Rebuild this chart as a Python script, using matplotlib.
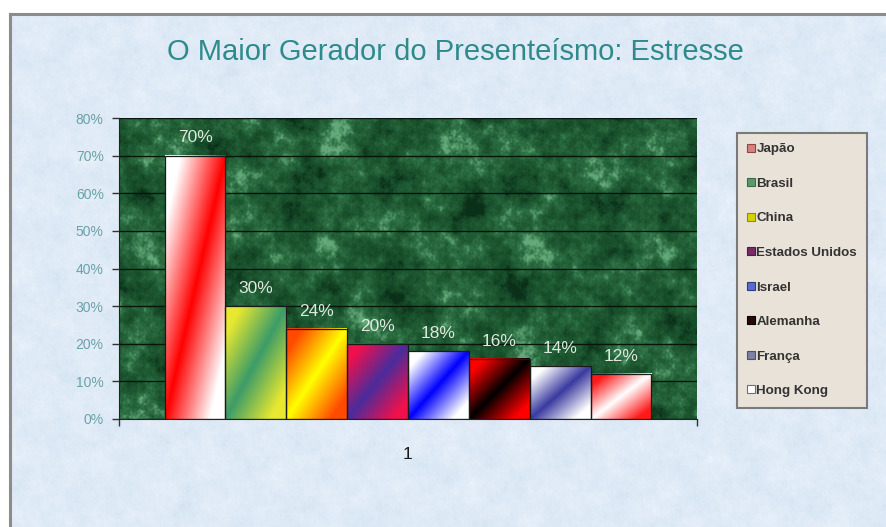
import numpy as np
import matplotlib
matplotlib.use("Agg")
import matplotlib.pyplot as plt
from matplotlib.patches import Patch
from matplotlib.colors import to_rgb, LinearSegmentedColormap
from matplotlib.lines import Line2D

# ---- data ----
countries = ["Japão", "Brasil", "China", "Estados Unidos", "Israel", "Alemanha", "França", "Hong Kong"]
values = [0.70, 0.30, 0.24, 0.20, 0.18, 0.16, 0.14, 0.12]
category_labels = ["1"]
yticks = [0.0, 0.1, 0.2, 0.3, 0.4, 0.5, 0.6, 0.7, 0.8]
title = "O Maior Gerador do Presenteísmo: Estresse"

# gradient (center, edge) colours per bar and legend swatch colours
grad_center = ["#ff0000", "#3c9c68", "#ffff00", "#4a2c9c", "#0000ff", "#000000", "#3a3aa0", "#ffffff"]
grad_edge = ["#ffffff", "#e8e830", "#ff4a00", "#f0104c", "#ffffff", "#ff0000", "#ffffff", "#ff1a1a"]
swatch_face = ["#d88080", "#5a9a6a", "#d8d000", "#7a2a6a", "#5a6ad0", "#2a0808", "#8080a8", "#ffffff"]
swatch_edge = ["#8a4a3a", "#3a6a4a", "#8a8a20", "#4a2040", "#303a80", "#000000", "#505070", "#707070"]


def mottle(h, w, scale, octaves, decay):
    """Deterministic multi-octave sine texture in [0, 1]."""
    y, x = np.mgrid[0:h, 0:w] / scale
    f = np.zeros((h, w))
    for k in range(octaves):
        freq = 1.9 ** k
        for j in range(4):
            ang = (k * 4 + j) * 2.39996
            ph = (k * 7 + j * 3) * 1.3
            cx, sy = np.cos(ang), np.sin(ang)
            warp = 0.9 * np.sin(freq * 0.7 * (sy * x - cx * y) + 2 * ph)
            f += np.sin(freq * (cx * x + sy * y) + ph + warp) / (decay ** k)
    return (f - f.min()) / (f.max() - f.min())


W_PX, H_PX = 886, 527
fig = plt.figure(figsize=(W_PX / 100, H_PX / 100), dpi=100)
fig.patch.set_facecolor("white")

# ---- light blue textured chart background ----
bg = fig.add_axes([10 / W_PX, 0, (W_PX - 10) / W_PX, (H_PX - 15) / H_PX])
bg.set_axis_off()
tex = mottle(512, 876, 10.0, 6, 1.15)
bg_cmap = LinearSegmentedColormap.from_list("bgc", ["#d3e2f1", "#dbe8f5", "#e3edf8", "#ecf3fb"])
bg.imshow(tex, cmap=bg_cmap, aspect="auto", extent=(0, 1, 0, 1), interpolation="bilinear")
bg.set_xlim(0, 1)
bg.set_ylim(0, 1)
# frame of the chart
fig.add_artist(Line2D([9.5 / W_PX, 9.5 / W_PX], [0, 1 - 14 / H_PX], color="#8c8c8c", lw=2.2))
fig.add_artist(Line2D([9.5 / W_PX, 1], [1 - 14 / H_PX, 1 - 14 / H_PX], color="#8c8c8c", lw=2.2))

# ---- plot area ----
left, right, top, bottom = 119, 697, 118, 419
ax = fig.add_axes([left / W_PX, (H_PX - bottom) / H_PX, (right - left) / W_PX, (bottom - top) / H_PX])
ax.set_zorder(2)

# green marble texture
g = mottle(300, 578, 16.0, 6, 1.3)
g = np.clip((g - 0.2) / 0.65, 0, 1)
green_cmap = LinearSegmentedColormap.from_list("grn", ["#0b3019", "#164a28", "#1f5a33", "#2f7145", "#64a97a"])
ax.imshow(g, cmap=green_cmap, aspect="auto", extent=(0.5, 1.5, 0, 0.8),
          interpolation="bilinear", zorder=0)

# bars
n = len(values)
w = 1.0 / (n + 1.5)
positions = 1 + (np.arange(n) - (n - 1) / 2) * w
bars = ax.bar(positions, values, width=w, facecolor="none", edgecolor="#1a1a1a",
              linewidth=0.9, zorder=3)

gu = np.linspace(0, 1, 80)[None, :]
gv = np.linspace(1, 0, 200)[:, None]
s = np.clip(np.abs(gu - gv) * 1.35, 0, 1)[..., None]
for b, c0, c1 in zip(bars, grad_center, grad_edge):
    img = np.array(to_rgb(c0))[None, None, :] * (1 - s) + np.array(to_rgb(c1))[None, None, :] * s
    x0 = b.get_x()
    ax.imshow(img, extent=(x0, x0 + b.get_width(), 0, b.get_height()), aspect="auto",
              interpolation="bilinear", zorder=2.5)

# value labels
for p, v in zip(positions, values):
    ax.text(p, v + 0.047, f"{round(v * 100)}%", ha="center", va="center",
            color="#dfe9df", fontsize=12.5, family="Liberation Sans", zorder=4)

ax.set_xlim(0.5, 1.5)
ax.set_ylim(0, 0.8)
ax.set_yticks(yticks)
ax.set_yticklabels([f"{round(t * 100)}%" for t in yticks], color="#6aa2a6",
                   fontsize=10, family="Liberation Sans")
ax.yaxis.grid(True, color="#07160b", linewidth=1.0)
ax.set_axisbelow(True)
ax.tick_params(axis="y", direction="out", length=5, color="#333333", pad=6, width=1)

ax.set_xticks([1])
ax.set_xticklabels(category_labels, fontsize=12.5, family="Liberation Sans", color="#1a1a1a")
ax.tick_params(axis="x", which="major", length=0, pad=20)
ax.set_xticks([0.5, 1.5], minor=True)
ax.tick_params(axis="x", which="minor", direction="out", length=5, color="#333333", width=1)

for sp in ["top", "right"]:
    ax.spines[sp].set_visible(False)
ax.spines["left"].set_color("#222222")
ax.spines["bottom"].set_color("#222222")

# title
fig.text(455 / W_PX, 1 - 52 / H_PX, title, ha="center", va="center", fontsize=21,
         color="#2f8b8b", family="Liberation Sans")

# legend
handles = [Patch(facecolor=fc, edgecolor=ec, linewidth=0.8) for fc, ec in zip(swatch_face, swatch_edge)]
leg = fig.legend(handles, countries, loc="upper left",
                 bbox_to_anchor=(737 / W_PX, 1 - 133 / H_PX), bbox_transform=fig.transFigure,
                 prop={"family": "Liberation Sans", "weight": "bold", "size": 9.6},
                 labelcolor="#333333", handlelength=0.55, handleheight=0.55, handletextpad=0.12,
                 labelspacing=1.69, borderpad=0.78, borderaxespad=0, fancybox=False,
                 framealpha=1, edgecolor="#7a7a7a", facecolor="#e8e2d8")
leg.get_frame().set_linewidth(1.5)
leg.set_zorder(5)

fig.savefig("out.png", dpi=100)
